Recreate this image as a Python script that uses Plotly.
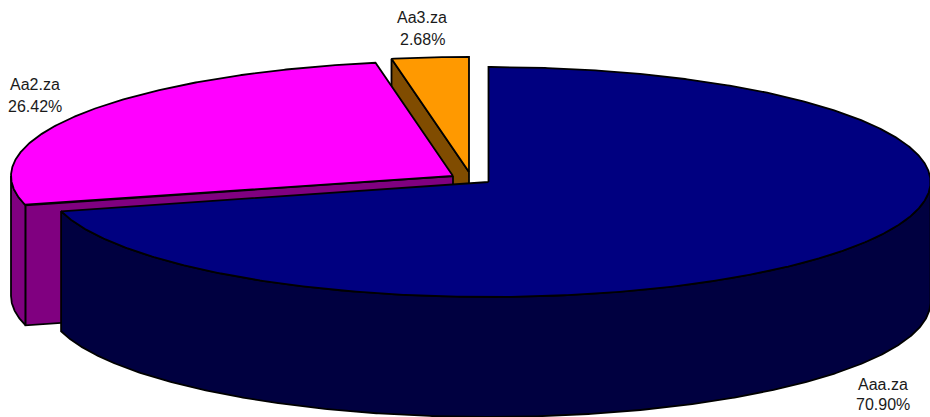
import numpy as np
import plotly.graph_objects as go

# Data
categories = ["Aaa.za", "Aa2.za", "Aa3.za"]
shares = [70.90, 26.42, 2.68]

# Styles
top_colors = ["#000080", "#ff00ff", "#ff9900"]
wall_colors = ["#000040", "#800080", "#804c00"]
apex_x = [488.5, 453, 469]
apex_y = [182, 176, 172]
label_x = [883, 35, 422]
name_y = [384, 84, 17]
pct_y = [404, 106, 39]
RX, RY, DEPTH = 442, 115, 120
LW = 1.8
VIEW_SKEW = -0.45  # slight angular shift of the pink/orange boundary from the 3D view
FONT = dict(family="Liberation Sans, Arial, sans-serif", size=16, color="#1a1a1a")


def rim(cx, cy, a0, a1, drop=0.0):
    t = np.radians(np.linspace(a0, a1, max(int(abs(a1 - a0) * 3), 2)))
    return cx + RX * np.sin(t), cy - RY * np.cos(t) + drop


def poly(fig, x, y, color):
    fig.add_trace(go.Scatter(
        x=list(x) + [x[0]], y=list(y) + [y[0]], mode="lines", fill="toself",
        fillcolor=color, line=dict(color="black", width=LW), hoverinfo="skip",
        showlegend=False, cliponaxis=False,
    ))


# Clockwise angular span of each slice, starting at 12 o'clock
edges = np.concatenate([[0.0], np.cumsum(shares) / np.sum(shares) * 360.0])
edges[2] += VIEW_SKEW

fig = go.Figure()
for i in [2, 1, 0]:  # back to front
    a0, a1 = edges[i], edges[i + 1]
    cx, cy = apex_x[i], apex_y[i]

    # Outer wall: the part of the rim that faces the viewer (90..270 degrees)
    w0, w1 = max(a0, 90.0), min(a1, 270.0)
    if w1 > w0:
        xt, yt = rim(cx, cy, w0, w1)
        xb, yb = rim(cx, cy, w0, w1, DEPTH)
        poly(fig, np.r_[xt, xb[::-1]], np.r_[yt, yb[::-1]], wall_colors[i])

    # Cut face at the slice's leading edge, visible on the left half of the pie
    if 180.0 < a0 < 360.0:
        ex, ey = rim(cx, cy, a0, a0 + 0.001)
        poly(fig, [cx, ex[0], ex[0], cx], [cy, ey[0], ey[0] + DEPTH, cy + DEPTH], wall_colors[i])

    # Top face
    xt, yt = rim(cx, cy, a0, a1)
    poly(fig, np.r_[cx, xt], np.r_[cy, yt], top_colors[i])

for i, (cat, val) in enumerate(zip(categories, shares)):
    fig.add_annotation(x=label_x[i], y=name_y[i], text=cat, showarrow=False, font=FONT,
                       xanchor="center", yanchor="middle")
    fig.add_annotation(x=label_x[i], y=pct_y[i], text=f"{val:.2f}%", showarrow=False, font=FONT,
                       xanchor="center", yanchor="middle")

fig.update_layout(
    width=930, height=417, margin=dict(l=0, r=0, t=0, b=0),
    paper_bgcolor="white", plot_bgcolor="white", showlegend=False,
    xaxis=dict(visible=False, range=[0, 930], fixedrange=True),
    yaxis=dict(visible=False, range=[417, 0], fixedrange=True),
)
fig.write_html("out.html", config={"displayModeBar": False},
               post_script="document.body.style.margin='0';")
